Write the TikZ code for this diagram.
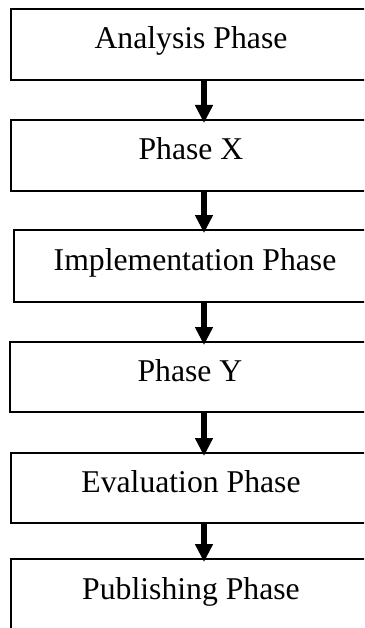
\documentclass[tikz,border=0pt]{standalone}
\usepackage{fontspec}
\setmainfont{Liberation Serif}
\usetikzlibrary{arrows.meta}
\tikzset{
  phasebox/.style={draw=black, line width=2pt, rectangle, inner sep=0pt, outer sep=0pt,
    minimum width=360pt, text height=22pt, text depth=13pt,
    font=\fontsize{31.7pt}{38pt}\selectfont},
  flowarrow/.style={line width=6pt, -{Triangle[width=17pt,length=18pt]}, shorten >=-3pt}
}
\begin{document}
\begin{tikzpicture}[x=1pt,y=-1pt]
  \useasboundingbox (0,0) rectangle (364,628);
  \clip (0,0) rectangle (364,628);
  \fill[white] (0,0) rectangle (364,628);
  \node[phasebox, minimum height=71pt] (b1) at (191,44.5) {Analysis Phase};
  \node[phasebox, minimum height=71pt] (b2) at (191,155.5) {Phase X};
  \node[phasebox, minimum height=72pt, minimum width=362pt] (b3) at (195,266) {Implementation Phase};
  \node[phasebox, minimum height=70pt] (b4) at (190,377) {Phase Y};
  \node[phasebox, minimum height=70pt] (b5) at (191,488) {Evaluation Phase};
  \node[phasebox, minimum height=72pt] (b6) at (191,595) {Publishing Phase};
  \coordinate (ax) at (204,0);
  \draw[flowarrow] (b1.south -| ax) -- (b2.north -| ax);
  \draw[flowarrow] (b2.south -| ax) -- (b3.north -| ax);
  \draw[flowarrow] (b3.south -| ax) -- (b4.north -| ax);
  \draw[flowarrow] (b4.south -| ax) -- (b5.north -| ax);
  \draw[flowarrow] (b5.south -| ax) -- (b6.north -| ax);
\end{tikzpicture}
\end{document}
